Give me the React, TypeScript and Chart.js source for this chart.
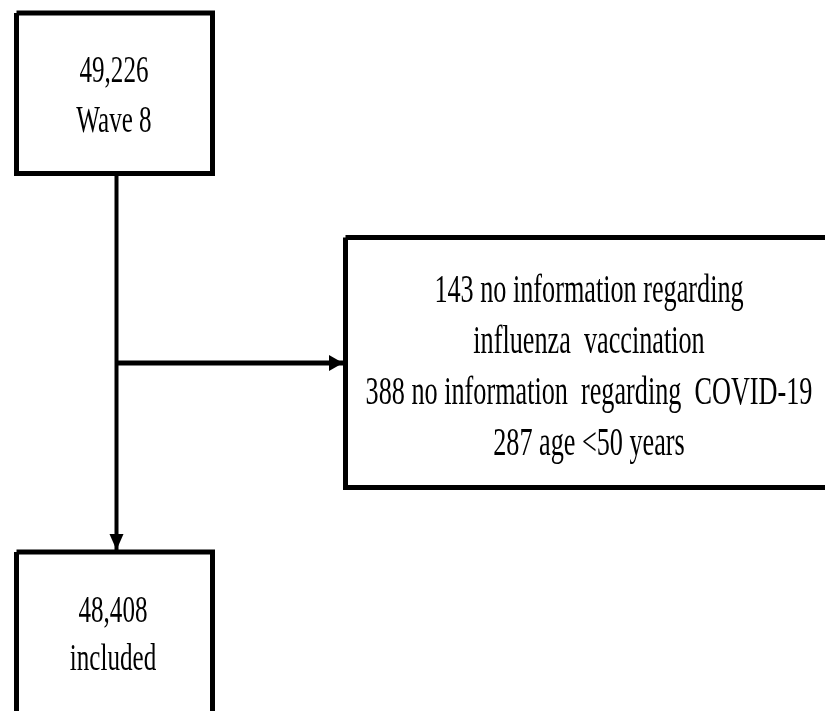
import React, { useEffect, useRef } from "react";
import { Chart, registerables } from "chart.js";

Chart.register(...registerables);

// ---- content ----
const nodeLines: string[][] = [
  ["49,226", "Wave 8"],
  [
    "143 no information regarding",
    "influenza  vaccination",
    "388 no information  regarding  COVID-19",
    "287 age <50 years",
  ],
  ["48,408", "included"],
];

// ---- layout (in the chart's own coordinate units) ----
const nodeLeft = [16.5, 345.5, 16.5];
const nodeRight = [212.5, 832, 212.5];
const nodeTop = [13, 237.5, 552];
const nodeBottom = [173.5, 487.5, 720];
const textCenterX = [114, 589, 113];
const textFirstBaseline = [82, 302, 622];
const textLineGap = [50, 51, 48];
const textSize = [38, 40, 38];
const textSqueeze = [0.66, 0.655, 0.66];

// connectors with an optional arrowhead at the end
const connectorFrom = [
  { x: 116.5, y: 176 },
  { x: 116.5, y: 363 },
];
const connectorTo = [
  { x: 116.5, y: 550 },
  { x: 343, y: 363 },
];
const connectorArrow = [false, true];
const mainArrowTip = { x: 116.5, y: 550 };

export default function App() {
  const ref = useRef<HTMLCanvasElement | null>(null);

  useEffect(() => {
    document.body.style.margin = "0";
    const canvas = ref.current;
    if (!canvas) return;

    const boxDatasets = nodeLeft.map((l, i) => ({
      type: "line" as const,
      data: [
        { x: l, y: nodeTop[i] },
        { x: nodeRight[i], y: nodeTop[i] },
        { x: nodeRight[i], y: nodeBottom[i] },
        { x: l, y: nodeBottom[i] },
        { x: l, y: nodeTop[i] },
      ],
      borderColor: "#000",
      borderWidth: 5,
      pointRadius: 0,
      showLine: true,
      fill: false,
      tension: 0,
      borderJoinStyle: "miter" as const,
      clip: false as any,
    }));

    const connDatasets = connectorFrom.map((f, i) => ({
      type: "line" as const,
      data: [f, connectorTo[i]],
      borderColor: "#000",
      borderWidth: i === 0 ? 4 : 5,
      pointRadius: 0,
      showLine: true,
      fill: false,
      clip: false as any,
    }));

    const arrowText = {
      id: "arrowText",
      afterDatasetsDraw(chart: any) {
        const ctx = chart.ctx as CanvasRenderingContext2D;
        const xs = chart.scales.x;
        const ys = chart.scales.y;
        const px = (v: number) => xs.getPixelForValue(v);
        const py = (v: number) => ys.getPixelForValue(v);
        ctx.save();
        ctx.fillStyle = "#000";
        const heads = [
          { tip: mainArrowTip, dir: "down" },
          ...connectorTo
            .map((t, i) => (connectorArrow[i] ? { tip: t, dir: "right" } : null))
            .filter(Boolean),
        ] as { tip: { x: number; y: number }; dir: string }[];
        heads.forEach(({ tip, dir }) => {
          const tx = px(tip.x);
          const ty = py(tip.y);
          ctx.beginPath();
          if (dir === "down") {
            ctx.moveTo(tx, ty);
            ctx.lineTo(tx - 7, ty - 16);
            ctx.lineTo(tx + 7, ty - 16);
          } else {
            ctx.moveTo(tx, ty);
            ctx.lineTo(tx - 14, ty - 8);
            ctx.lineTo(tx - 14, ty + 8);
          }
          ctx.closePath();
          ctx.fill();
        });
        ctx.textAlign = "center";
        ctx.textBaseline = "alphabetic";
        nodeLines.forEach((lines, i) => {
          ctx.font = `${textSize[i]}px "Liberation Serif", "Times New Roman", serif`;
          lines.forEach((t, j) => {
            ctx.save();
            ctx.translate(px(textCenterX[i]), py(textFirstBaseline[i] + j * textLineGap[i]));
            ctx.scale(textSqueeze[i], 1);
            ctx.fillText(t, 0, 0);
            ctx.restore();
          });
        });
        ctx.restore();
      },
    };

    const chart = new Chart(canvas, {
      type: "scatter",
      data: { datasets: [...boxDatasets, ...connDatasets] as any },
      options: {
        animation: false,
        responsive: false,
        maintainAspectRatio: false,
        layout: { padding: 0 },
        plugins: { legend: { display: false }, tooltip: { enabled: false } },
        scales: {
          x: { type: "linear", min: 0, max: 825, display: false },
          y: { type: "linear", min: 0, max: 711, reverse: true, display: false },
        },
        events: [],
      },
      plugins: [arrowText],
    });
    return () => chart.destroy();
  }, []);

  return (
    <div style={{ width: 825, height: 711, background: "#fff" }}>
      <canvas ref={ref} width={825} height={711} style={{ display: "block" }} />
    </div>
  );
}
